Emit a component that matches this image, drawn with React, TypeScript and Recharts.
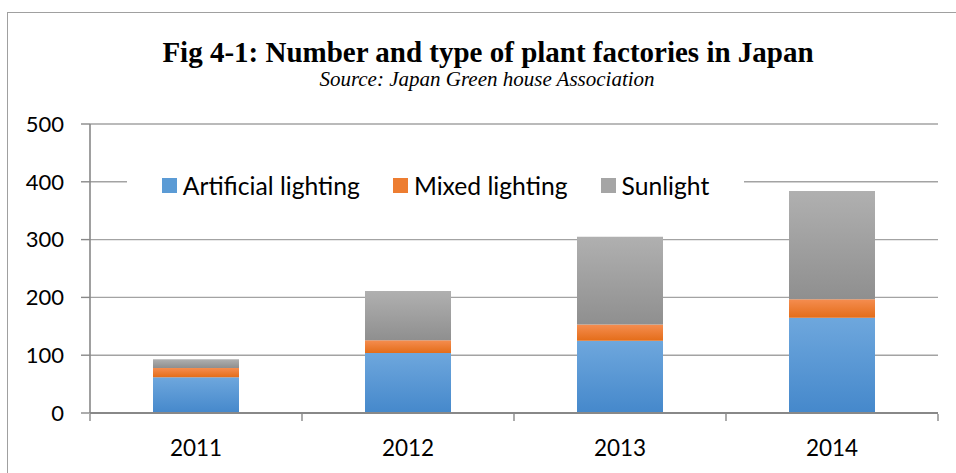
import React from 'react';
import { BarChart, Bar, XAxis, YAxis, CartesianGrid, Legend } from 'recharts';

// Plant factories in Japan by lighting type, per year
const years = ['2011', '2012', '2013', '2014'];
const artificialLighting = [62, 104, 125, 165];
const mixedLighting = [16, 22, 28, 32];
const sunlight = [15, 85, 152, 187];
const yTicks = [0, 100, 200, 300, 400, 500];
const bandEdges = [0, 1, 2, 3, 4];

const data = years.map((year, i) => ({
  year,
  slot: i + 0.5,
  artificial: artificialLighting[i],
  mixed: mixedLighting[i],
  sunlight: sunlight[i],
}));

const swatch: Record<string, string> = {
  artificial: '#5b9bd5',
  mixed: '#ed7d31',
  sunlight: '#a5a5a5',
};

const FONT = 'Lato, "Open Sans", sans-serif';

const LegendContent = (props: any) => {
  const items = props.payload || [];
  return (
    <div
      style={{
        display: 'flex',
        justifyContent: 'center',
        alignItems: 'center',
        height: '100%',
        fontFamily: FONT,
        fontSize: 24.7,
        color: '#000',
      }}
    >
      {items.map((item: any, i: number) => (
        <div
          key={item.dataKey}
          style={{ display: 'flex', alignItems: 'center', marginLeft: i === 0 ? 0 : 33 }}
        >
          <span
            style={{
              display: 'inline-block',
              width: 15,
              height: 15,
              background: swatch[item.dataKey],
              marginRight: 6,
            }}
          />
          <span>{item.value}</span>
        </div>
      ))}
    </div>
  );
};

export default function App() {
  return (
    <div
      style={{
        position: 'fixed',
        left: 0,
        top: 0,
        width: 956,
        height: 473,
        overflow: 'hidden',
        background: '#fff',
      }}
    >
      <div
        style={{
          position: 'absolute',
          left: 7,
          top: 12,
          width: 980,
          height: 500,
          border: '1px solid #a0a0a0',
          boxSizing: 'border-box',
        }}
      />
      <svg
        width={956}
        height={100}
        style={{ position: 'absolute', left: 0, top: 0 }}
      >
        <text
          x={488}
          y={62}
          textAnchor="middle"
          fontFamily='"Liberation Serif", "Times New Roman", serif'
          fontWeight="bold"
          fontSize={29}
          fill="#000"
        >
          Fig 4-1: Number and type of plant factories in Japan
        </text>
        <text
          x={487}
          y={86}
          textAnchor="middle"
          fontFamily='"Liberation Serif", "Times New Roman", serif'
          fontStyle="italic"
          fontSize={21}
          fill="#000"
        >
          Source: Japan Green house Association
        </text>
      </svg>
      <div style={{ position: 'absolute', left: 0, top: 0 }}>
        <BarChart
          width={956}
          height={473}
          data={data}
          margin={{ top: 124, right: 18, bottom: 58, left: 30 }}
        >
          <defs>
            <linearGradient id="gradArtificial" x1="0" y1="0" x2="0" y2="1">
              <stop offset="0%" stopColor="#6ea7dd" />
              <stop offset="100%" stopColor="#4588cb" />
            </linearGradient>
            <linearGradient id="gradMixed" x1="0" y1="0" x2="0" y2="1">
              <stop offset="0%" stopColor="#f58d50" />
              <stop offset="100%" stopColor="#e46d19" />
            </linearGradient>
            <linearGradient id="gradSunlight" x1="0" y1="0" x2="0" y2="1">
              <stop offset="0%" stopColor="#b0b0b0" />
              <stop offset="100%" stopColor="#8f8f8f" />
            </linearGradient>
          </defs>
          <CartesianGrid vertical={false} stroke="#a3a3a3" strokeWidth={1.4} />
          <XAxis
            dataKey="year"
            height={1}
            tickLine={false}
            tickSize={0}
            tickMargin={27}
            axisLine={{ stroke: '#888888', strokeWidth: 2 }}
            tick={{ fill: '#000', fontSize: 22.5, fontFamily: FONT }}
            interval={0}
          />
          <XAxis
            xAxisId="edges"
            dataKey="slot"
            type="number"
            domain={[0, 4]}
            ticks={bandEdges}
            height={1}
            axisLine={false}
            tickSize={7}
            tickLine={{ stroke: '#888888', strokeWidth: 1.4 }}
            tickFormatter={() => ''}
            interval={0}
          />
          <YAxis
            width={60}
            domain={[0, 500]}
            ticks={yTicks}
            interval={0}
            tickSize={9}
            tickMargin={17}
            axisLine={{ stroke: '#888888', strokeWidth: 1.6 }}
            tickLine={{ stroke: '#888888', strokeWidth: 1.4 }}
            tick={{ fill: '#000', fontSize: 22, fontFamily: FONT }}
          />
          <Legend
            layout="horizontal"
            verticalAlign="middle"
            align="center"
            content={<LegendContent />}
            wrapperStyle={{
              position: 'absolute',
              left: 127,
              top: 171,
              width: 617,
              height: 28,
              background: '#fff',
            }}
          />
          <Bar
            dataKey="artificial"
            name="Artificial lighting"
            stackId="plants"
            fill="url(#gradArtificial)"
            barSize={86}
            isAnimationActive={false}
          />
          <Bar
            dataKey="mixed"
            name="Mixed lighting"
            stackId="plants"
            fill="url(#gradMixed)"
            barSize={86}
            isAnimationActive={false}
          />
          <Bar
            dataKey="sunlight"
            name="Sunlight"
            stackId="plants"
            fill="url(#gradSunlight)"
            barSize={86}
            isAnimationActive={false}
          />
        </BarChart>
      </div>
    </div>
  );
}
